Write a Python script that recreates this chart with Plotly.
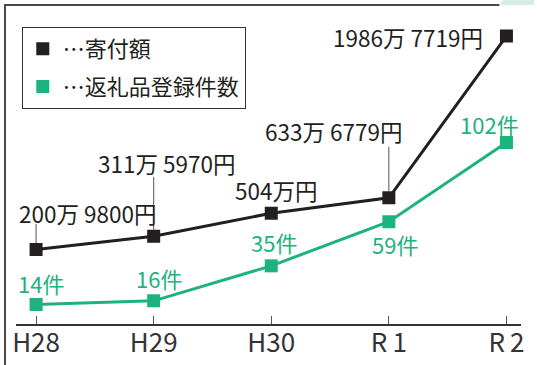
import plotly.graph_objects as go

years = ["H28", "H29", "H30", "R1", "R2"]
tick_text = ["H28", "H29", "H30", "R\u20091", "R\u20092"]
donations = [2009800, 3115970, 5040000, 6336779, 19867719]
donation_labels = ["200万 9800円", "311万 5970円", "504万円", "633万 6779円", "1986万 7719円"]
items = [14, 16, 35, 59, 102]
item_labels = ["14件", "16件", "35件", "59件", "102件"]

BLACK = "#231f20"
GREEN = "#1db37e"
FONT = "Noto Sans CJK JP"
W, H = 537, 365

fig = go.Figure()
fig.add_trace(go.Scatter(x=years, y=donations, mode="lines+markers", yaxis="y",
                         line=dict(color=BLACK, width=3),
                         marker=dict(symbol="square", size=13, color=BLACK),
                         showlegend=False))
fig.add_trace(go.Scatter(x=years, y=items, mode="lines+markers", yaxis="y2",
                         line=dict(color=GREEN, width=3),
                         marker=dict(symbol="square", size=13, color=GREEN),
                         showlegend=False))
# legend entries
fig.add_trace(go.Scatter(x=[None], y=[None], mode="markers", name="…寄付額",
                         legendgroup="a",
                         marker=dict(symbol="square", size=13, color=BLACK)))
fig.add_trace(go.Scatter(x=[None], y=[None], mode="markers", name="…返礼品登録件数",
                         legendgroup="b",
                         marker=dict(symbol="square", size=13, color=GREEN)))

# label offsets (pixels) relative to each marker
blk_off = [("left", -19.5, 36.5), ("center", 12.6, 73.5), ("center", 5, 23),
           ("center", -55, 67), ("right", -21, -1)]
grn_off = [(4.5, 21.5), (5.5, 23), (3, 24), (6, -22), (-17, 18.5)]

ann = []
for i, (yr, v, lab) in enumerate(zip(years, donations, donation_labels)):
    xa, xs, ys = blk_off[i]
    ann.append(dict(x=yr, y=v, xref="x", yref="y", text=lab, showarrow=False,
                    xanchor=xa, yanchor="middle", xshift=xs, yshift=ys,
                    font=dict(family=FONT, size=22.5, color=BLACK)))
for i, (yr, v, lab) in enumerate(zip(years, items, item_labels)):
    xs, ys = grn_off[i]
    ann.append(dict(x=yr, y=v, xref="x", yref="y2", text=lab, showarrow=False,
                    xanchor="center", yanchor="middle", xshift=xs, yshift=ys,
                    font=dict(family=FONT, size=22, color=GREEN)))

shapes = []
# leader lines
for idx, top in [(0, 25.5), (1, 59.5), (3, 51)]:
    shapes.append(dict(type="line", xref="x", yref="y", ysizemode="pixel",
                       yanchor=donations[idx], x0=years[idx], x1=years[idx],
                       y0=6.5, y1=top, line=dict(color="#555555", width=1)))
# frame
shapes.append(dict(type="line", xref="paper", yref="paper",
                   x0=2 / W, x1=2 / W, y0=0, y1=1 - 5 / H,
                   line=dict(color="#4a4a4a", width=2)))
shapes.append(dict(type="line", xref="paper", yref="paper",
                   x0=1 / W, x1=502 / W, y0=1 - 5 / H, y1=1 - 5 / H,
                   line=dict(color="#4a4a4a", width=2)))
shapes.append(dict(type="path", xref="paper", yref="paper",
                   path=f"M {502/W} {1-5/H} L {506/W} 1 L 1 1 L 1 {1-5/H} Z",
                   fillcolor="#d6eee1", line=dict(width=0)))

fig.update_layout(
    width=W, height=H,
    margin=dict(l=0, r=0, t=0, b=0),
    paper_bgcolor="white", plot_bgcolor="white",
    font=dict(family=FONT, color=BLACK),
    xaxis=dict(domain=[13 / W, 524 / W], range=[-0.172, 4.125],
               tickmode="array", tickvals=years, ticktext=tick_text,
               showline=True, linecolor="#333333", linewidth=1.5,
               ticks="inside", ticklen=8, tickcolor="#555555", tickwidth=1,
               ticklabelstandoff=-5,
               showgrid=False, zeroline=False,
               tickfont=dict(family=FONT, size=26, color="#333333")),
    yaxis=dict(domain=[41 / H, 355 / H], range=[-4.222e6, 22.043e6],
               visible=False, showgrid=False),
    yaxis2=dict(domain=[41 / H, 355 / H], range=[3.41, 173.97], overlaying="y",
                visible=False, showgrid=False),
    showlegend=True,
    legend=dict(x=19 / W, y=1 - 27 / H, xanchor="left", yanchor="top",
                bordercolor="#333333", borderwidth=1, bgcolor="white",
                tracegroupgap=6,
                font=dict(family=FONT, size=22, color=BLACK)),
    annotations=ann, shapes=shapes,
)

fig.write_html("out.html")
